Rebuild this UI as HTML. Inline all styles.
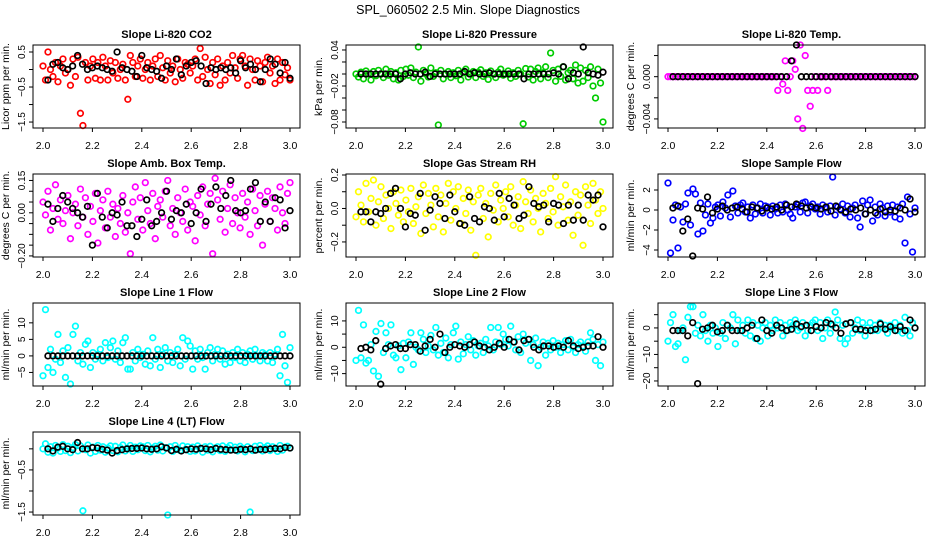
<!DOCTYPE html>
<html><head><meta charset="utf-8"><style>
html,body{margin:0;padding:0;background:#fff;}
svg{display:block;font-family:"Liberation Sans",Arial,sans-serif;}
</style></head><body>
<svg id="chart" width="936" height="540" viewBox="0 0 936 540" xmlns="http://www.w3.org/2000/svg">
<text x="468" y="14" text-anchor="middle" font-size="12.5">SPL_060502  2.5 Min. Slope Diagnostics</text>
</svg>
<script>
// ---- data (y values; x evenly spaced over 2.0..3.0) ----
const co2Color=[0.1,-0.3,0.5,0.0,-0.2,0.2,-0.35,0.1,0.3,-0.1,0.0,-0.45,0.3,-0.2,0.35,-1.25,-1.6,0.2,-0.3,0.1,0.3,-0.25,0.2,-0.3,0.35,0.1,-0.3,0.25,-0.1,0.2,-0.25,0.0,0.15,-0.3,-0.85,0.4,0.2,-0.2,0.1,0.3,-0.25,0.0,0.2,-0.3,0.1,0.3,-0.2,0.4,0.05,-0.3,0.25,-0.1,0.1,-0.35,0.3,0.0,-0.25,0.2,0.15,-0.1,0.1,0.3,-0.3,0.6,-0.2,0.35,0.0,-0.4,0.2,-0.15,0.3,-0.45,0.1,-0.3,0.2,-0.1,0.4,0.05,-0.25,0.3,0.4,0.1,-0.45,0.3,0.0,-0.3,0.25,0.1,-0.35,0.2,0.35,-0.1,0.1,-0.4,0.3,-0.3,0.2,-0.15,0.05,-0.3];
const co2Black=[-0.3,0.15,0.2,0.05,0.0,0.1,0.4,0.15,0.0,0.05,0.1,0.05,0.0,-0.05,0.5,0.05,0.0,-0.05,-0.2,0.4,0.05,0.0,-0.05,-0.25,0.1,0.0,0.3,-0.15,0.1,0.2,0.25,0.1,-0.4,0.05,0.0,0.05,0.0,0.05,-0.1,0.25,0.05,0.15,0.0,-0.35,0.0,0.3,0.15,-0.1,0.2,-0.25];
const presColor=[0.0,-0.005,0.003,-0.008,0.005,0.0,-0.01,0.004,-0.003,0.006,0.0,-0.006,0.008,-0.002,0.004,-0.008,0.002,-0.01,0.006,-0.004,0.008,-0.002,0.01,-0.006,0.003,0.045,-0.012,0.006,0.0,-0.005,0.01,-0.004,0.002,-0.085,0.006,-0.008,0.0,0.004,-0.006,0.002,-0.003,0.006,-0.01,0.002,0.008,-0.005,0.0,0.004,-0.006,0.003,0.007,-0.004,0.002,-0.009,0.005,0.0,-0.006,0.003,0.008,-0.002,0.0,0.005,-0.007,0.002,-0.004,0.006,0.0,-0.083,0.009,-0.005,0.008,-0.01,0.004,0.01,-0.008,0.002,0.012,-0.006,0.035,0.006,-0.012,0.008,-0.004,0.012,-0.01,0.002,0.006,-0.008,0.015,-0.015,0.01,-0.012,0.006,-0.006,0.012,-0.02,-0.04,0.008,-0.015,-0.08];
const presBlack=[0,0,0,0,0,0,0,0,-0.008,0,0.002,0,0,0.003,-0.004,0,0,0,0,0,0,0.004,0,0.002,0,0,0.002,0,0,0,0,0,0,-0.008,0,0,0,0,0,0.002,0,0.012,-0.008,0.002,0,0.045,0.002,0,-0.002,0.003];
const tempColor=[0,0,0,0,0,0,0,0,0,0,0,0,0,0,0,0,0,0,0,0,0,0,0,0,0,0,0,0,0,0,0,0,0,0,0,0,0,0,0,0,0,0,0,0,-0.0013,0,-0.0007,0.0015,-0.0013,0,0.0015,0.0007,-0.004,0.003,-0.0049,0.002,-0.0013,-0.0028,-0.0013,0,-0.0013,0,0,0,-0.0013,0,0,0,0,0,0,0,0,0,0,0,0,0,0,0,0,0,0,0,0,0,0,0,0,0,0,0,0,0,0,0,0,0,0,0];
const tempBlack=[0,0,0,0,0,0,0,0,0,0,0,0,0,0,0,0,0,0,0,0,0,0,0,0,0.0015,0.003,0,0,0,0,0,0,0,0,0,0,0,0,0,0,0,0,0,0,0,0,0,0,0,0];
const ambColor=[0.05,-0.01,0.1,-0.08,0.02,0.13,-0.03,0.06,-0.05,0.01,0.08,-0.12,0.0,0.04,-0.06,0.11,-0.02,0.07,-0.1,0.03,-0.04,0.09,-0.14,0.01,0.06,-0.07,0.1,-0.02,0.04,-0.11,0.02,-0.05,0.08,-0.09,0.0,-0.19,0.05,0.12,-0.03,0.07,-0.08,0.14,0.01,-0.05,0.09,-0.12,0.03,0.06,-0.02,0.1,0.15,-0.06,0.02,-0.1,0.07,0.0,-0.04,0.11,-0.08,0.05,0.03,-0.13,0.08,-0.01,0.12,-0.06,0.04,0.09,-0.19,0.16,0.06,-0.03,0.1,-0.09,0.02,0.13,-0.05,0.07,0.0,-0.07,0.09,-0.02,0.05,-0.1,0.11,0.01,-0.06,0.08,-0.15,0.04,0.1,-0.04,0.07,0.02,-0.08,0.12,0.0,-0.05,0.09,0.14];
const ambBlack=[0.04,-0.04,0.02,0.08,0.05,0.02,0.0,-0.02,0.03,-0.15,0.09,-0.02,-0.07,0.0,-0.01,0.05,-0.06,-0.06,-0.11,-0.03,0.06,-0.06,-0.04,0.0,0.1,-0.03,0.01,0.0,0.04,-0.05,0.0,0.11,-0.04,0.04,0.12,0.02,0.08,0.15,0.01,0.0,0.01,0.11,0.14,-0.04,0.05,-0.04,0.07,0.06,-0.07,0.01];
const rhColor=[-0.05,0.1,0.02,-0.08,0.15,-0.02,0.06,0.17,-0.1,0.04,0.13,-0.06,0.08,0.0,-0.12,0.1,0.03,-0.04,0.11,-0.08,0.05,-0.02,0.12,-0.09,0.01,0.07,-0.15,0.14,-0.03,0.09,0.02,-0.11,0.12,-0.05,0.08,-0.14,0.03,0.15,-0.07,0.1,0.0,0.13,-0.09,0.06,-0.03,0.11,-0.13,0.04,-0.28,0.08,0.12,-0.06,0.03,-0.17,0.09,-0.01,0.14,-0.08,0.05,0.0,0.1,-0.05,0.13,-0.1,0.02,0.07,-0.12,0.16,0.04,-0.03,0.11,-0.08,0.06,0.0,-0.14,0.09,0.03,-0.06,0.12,-0.02,0.19,-0.1,0.07,0.01,0.14,-0.07,0.04,-0.16,0.1,-0.04,0.08,-0.22,0.13,0.02,-0.09,0.15,0.05,-0.03,0.1,0.0];
const rhBlack=[-0.02,-0.02,-0.08,-0.02,-0.03,0.0,0.09,0.12,0.0,-0.11,-0.03,-0.04,0.09,-0.13,-0.01,0.07,0.03,-0.06,0.08,-0.02,-0.09,-0.1,0.07,-0.06,-0.08,0.01,0.0,-0.07,0.09,-0.05,0.06,0.02,-0.06,-0.04,0.13,0.03,0.01,0.02,-0.08,0.03,0.02,-0.09,0.02,-0.07,0.02,-0.07,0.08,0.05,0.08,-0.11];
const sampColor=[2.7,-4.3,-1.0,0.5,-3.8,0.3,-1.2,0.6,1.7,-1.5,2.1,1.6,-2.4,0.7,-2.1,-0.5,0.6,-1.3,-0.8,0.3,0.5,-0.6,0.8,0.2,1.5,-0.7,1.9,0.4,-0.3,0.5,0.7,-0.2,0.3,-0.8,0.5,-0.4,0.2,0.6,-0.3,0.4,0.3,-0.5,0.4,0.1,-0.3,0.5,-0.2,0.6,0.0,-0.4,-0.8,0.3,0.5,-0.2,0.7,0.8,-0.3,0.4,0.6,0.1,0.3,-0.4,0.5,0.2,-0.2,0.4,3.3,-0.5,0.3,0.1,0.6,-0.3,0.4,-0.7,0.2,0.5,-0.8,-1.7,0.9,-0.4,0.5,1.0,-1.1,0.3,-0.5,0.6,0.2,-0.6,0.4,-0.2,0.5,-0.7,0.3,-0.9,0.6,-3.3,1.3,-0.4,-4.2,0.2];
const sampBlack=[0.2,0.4,-2.1,-0.9,-4.6,0.2,0.1,1.3,-0.3,0.1,0.4,0.0,0.2,0.3,0.1,-0.2,0.3,0.2,-0.1,0.2,0.1,0.3,0.0,0.5,0.3,0.6,0.4,0.2,0.3,0.2,0.1,0.3,-0.1,0.4,0.0,-0.2,0.1,0.0,0.2,-0.4,0.0,-0.3,0.1,-0.2,0.0,-0.1,0.2,0.0,1.1,-0.2];
const line1Color=[-6,14,-3.5,2,-5,-1,6.5,-2,1.5,-6.5,2.5,-8.5,6.5,9,-1.5,1,-2.5,3.5,4.5,-3.5,1,-1,0.5,2,-1.5,4,-0.5,2.5,4.5,-1,1.5,-2,4,5.5,-4,-4,1,-1.5,2,-0.5,0.5,-2.5,1.5,-3,5.5,-1,2,-3.5,0.5,2.5,-1.5,1,-2,0.5,2,-3,5.5,-1,4.5,3,-4,1.5,-1,2,-0.5,-4,1,2.5,-1.5,0.5,2,-1,1.5,-2.5,0.5,-2,1,-0.5,2,-1.5,1,-2,0.5,1.5,-1,2,0,-1.5,1,0.5,-1.5,1,-2,0.5,2,-6,6.5,-3,-8,2.5];
const line1Black=[0,0,0,0,0,0,0,0,0,0,0,0,0,0,0,0,0,0,0,0,0,0,0,0,0,0,0,0,0,0,0,0,0,0,0,0,0,0,0,0,0,0,0,0,0,0,0,0,0,0];
const line2Color=[-5,14,-4,8.5,-6,-5,1,-9,6,-11,9,-2,5.5,1,8.5,-3,-4,0.5,-8.5,1.5,-4,2,5.5,-6.5,0,-1,5.5,3,-2,0.5,4.5,-1,7.5,-3,1.5,-2,3.5,-4,1,5.5,8,-4.5,2,-2.5,1,4,-1,2.5,-3,0.5,1.5,-2,3,0.5,7.5,-1,2,7.5,1,5,3,0.5,8,2,-1,4,-2,5,1.5,3,-5,1,3.5,-7,0,2,-3,1.5,-1,2.5,0,1.5,-2,1,2.5,-1,3,0,-2,1,2,0.5,-1.5,2,5.5,3,-5,1,-7,2];
const line2Black=[-0.5,0,-1,2.5,-14,-0.5,0.5,1,-0.5,-0.5,1,1,-1.5,0.5,3,0,5,-2,0,1,0.5,0,1,2,0.5,0,-1,0,1.5,0,3,2,-1,2.5,3,0,-1,0.5,0.5,0,0.5,0,2.5,0.5,-0.5,0,0.5,0.5,4,0];
const line3Color=[-5,2,5,-7,-6,-1,0,-12,4,8,8,-2,1,-3,5,-1,-5,1,-2,0,-7,-2,2,-4,1,0,5,-6,3,-1,1,-2,3,-3,2,-4,1,-5,0,2,-3,1,-1,3,0,2,-3,1,-1,2,1,3,-1,0,2,-3,-1,1,2,3,-1,2,-4,0,3,-2,1,6,3,-4,1,-6,-4,2,-2,0,3,-1,2,-3,0,2,-1,1,-1,2,0,1,-2,1,0,2,-1,1,-2,4,-1,-3,2,0];
const line3Black=[-1,-1,-1,-3,2,-21,-0.5,0,1,-1.5,-1,1,-1,-1,-1,0,1,-4,3,-1,-2,1,0,-1,-0.5,1.5,0.5,1,-1,0.5,0,2,1.5,0,-2,1.5,2,-0.5,-0.5,-1,-1,-0.5,1.5,-0.5,0.5,-1,0.5,-1,3,0];
const line4Color=[0.0,0.12,-0.08,0.05,-0.1,0.08,0.02,-0.06,0.1,-0.04,0.06,-0.09,0.03,0.1,-0.05,0.07,-1.47,-0.02,0.09,-0.1,0.04,-0.06,0.08,-0.03,0.05,-0.08,0.02,0.07,-0.04,0.06,-0.07,0.03,0.09,-0.05,0.01,0.08,-0.06,0.04,-0.02,0.07,0.05,-0.04,0.08,-0.07,0.02,0.06,-0.03,0.09,-0.05,0.03,-1.57,0.05,-0.06,0.08,0.0,-0.04,0.07,-0.02,0.05,-0.06,0.04,-0.05,0.07,0.01,-0.08,0.05,-0.03,0.06,-0.07,0.02,0.05,-0.04,0.07,-0.06,0.03,0.08,-0.02,0.04,-0.05,0.06,0.01,-0.07,0.05,-1.5,-0.04,0.06,-0.02,0.08,-0.05,0.03,0.07,-0.04,0.05,0.0,-0.06,0.08,-0.03,0.04,0.06,0.02];
const line4Black=[0.0,-0.05,0.04,0.06,0.0,-0.02,0.15,0.0,0.0,0.03,0.02,-0.01,-0.03,-0.1,-0.04,-0.02,0.0,0.01,0.01,0.02,0.0,-0.01,0.0,0.05,0.02,-0.04,-0.01,-0.05,-0.02,0.0,-0.01,0.01,0.0,-0.02,0.01,-0.01,-0.02,-0.03,-0.03,-0.01,-0.02,0.0,-0.03,-0.01,-0.02,0.0,0.01,0.0,0.03,0.02];
const xTicks=[2.0,2.2,2.4,2.6,2.8,3.0];
const xTickLabels=["2.0","2.2","2.4","2.6","2.8","3.0"];

const panels=[
 {name:"co2",title:"Slope Li-820 CO2",yl:"Licor ppm per min.",col:0,row:0,dom:[-1.67,0.7],ticks:[0.5,0,-0.5,-1,-1.5],labels:{"0.5":"0.5","-0.5":"-0.5","-1.5":"-1.5"},color:"#ff0000",c:co2Color,k:co2Black},
 {name:"pressure",title:"Slope Li-820 Pressure",yl:"kPa per min.",col:1,row:0,dom:[-0.09,0.0483],ticks:[0.04,0.02,0,-0.02,-0.04,-0.06,-0.08],labels:{"0.04":"0.04","-0.02":"-0.02","-0.08":"-0.08"},color:"#00cc00",c:presColor,k:presBlack},
 {name:"temp",title:"Slope Li-820 Temp.",yl:"degrees C per min.",col:2,row:0,dom:[-0.00486,0.003],ticks:[0.002,0,-0.002,-0.004],labels:{"0":"0.000","-0.004":"-0.004"},color:"#ff00ff",c:tempColor,k:tempBlack},
 {name:"amb-box-temp",title:"Slope Amb. Box Temp.",yl:"degrees C per min.",col:0,row:1,dom:[-0.205,0.18],ticks:[0.15,0.1,0.05,0,-0.05,-0.1,-0.15,-0.2],labels:{"0.15":"0.15","0":"0.00","-0.2":"-0.20"},color:"#ff00ff",c:ambColor,k:ambBlack},
 {name:"gas-rh",title:"Slope Gas Stream RH",yl:"percent per min.",col:1,row:1,dom:[-0.29,0.206],ticks:[0.2,0.1,0,-0.1,-0.2],labels:{"0.2":"0.2","0":"0.0","-0.2":"-0.2"},color:"#ffff00",c:rhColor,k:rhBlack},
 {name:"sample-flow",title:"Slope Sample Flow",yl:"ml/min per min.",col:2,row:1,dom:[-4.7,3.6],ticks:[2,0,-2,-4],labels:{"2":"2","0":"0","-2":"-2","-4":"-4"},color:"#0000ff",c:sampColor,k:sampBlack},
 {name:"line1-flow",title:"Slope Line 1 Flow",yl:"ml/min per min.",col:0,row:2,dom:[-9.1,16],ticks:[10,5,0,-5],labels:{"10":"10","5":"5","0":"0","-5":"-5"},color:"#00ffff",c:line1Color,k:line1Black},
 {name:"line2-flow",title:"Slope Line 2 Flow",yl:"ml/min per min.",col:1,row:2,dom:[-14.7,16.8],ticks:[10,5,0,-5,-10],labels:{"10":"10","0":"0","-10":"-10"},color:"#00ffff",c:line2Color,k:line2Black},
 {name:"line3-flow",title:"Slope Line 3 Flow",yl:"ml/min per min.",col:2,row:2,dom:[-21.9,9.4],ticks:[5,0,-5,-10,-15,-20],labels:{"0":"0","-10":"-10","-20":"-20"},color:"#00ffff",c:line3Color,k:line3Black},
 {name:"line4-flow",title:"Slope Line 4 (LT) Flow",yl:"ml/min per min.",col:0,row:3,dom:[-1.57,0.4],ticks:[0,-0.5,-1,-1.5],labels:{"-0.5":"-0.5","-1.5":"-1.5"},color:"#00ffff",c:line4Color,k:line4Black}
];
const colX=[33,346,658], rowY=[45,174,303,432], BW=267, BH=83, XPAD=10;
const NS="http://www.w3.org/2000/svg";
const svg=document.getElementById('chart');
function mk(tag,attrs,parent){const e=document.createElementNS(NS,tag);for(const a in attrs)e.setAttribute(a,attrs[a]);(parent||svg).appendChild(e);return e;}
panels.forEach(p=>{
  const L=colX[p.col], T=rowY[p.row], R=L+BW, B=T+BH;
  const g=mk('g',{});
  
  
  const xs=v=>L+XPAD+(v-2)*(BW-2*XPAD);
  const ys=v=>B-(v-p.dom[0])/(p.dom[1]-p.dom[0])*BH;
  const t=mk('text',{x:(L+R)/2,y:T-7,'text-anchor':'middle','font-size':11,'font-weight':'bold'},g);
  t.textContent=p.title;
  
  
  const pts=mk('g',{fill:'none','stroke-width':1.7},g);
  
  
  const n=p.c.length;
  p.c.forEach((v,i)=>{const c=mk('circle',{cx:xs(2+i/(n-1)),cy:ys(v),r:2.8,stroke:p.color},pts);
    
    });
  const m=p.k.length;
  p.k.forEach((v,i)=>{const c=mk('circle',{cx:xs(2+0.02+i*(0.98/(m-1))),cy:ys(v),r:2.8,stroke:'#000'},pts);
    
    });
  const box=mk('rect',{x:L,y:T,width:BW,height:BH,fill:'none',stroke:'#000','stroke-width':1},g);
  
  
  const xa=mk('g',{},g);
  
  
  xTicks.forEach((v,i)=>{mk('line',{x1:xs(v),x2:xs(v),y1:B,y2:B+4,stroke:'#000'},xa);
    const tl=mk('text',{x:xs(v),y:B+21,'text-anchor':'middle','font-size':10.5},xa);tl.textContent=xTickLabels[i];
    
    });
  const ya=mk('g',{},g);
  
  
  p.ticks.forEach(v=>{const y=ys(v);mk('line',{x1:L-4,x2:L,y1:y,y2:y,stroke:'#000'},ya);
    const lab=p.labels[String(v)];
    if(lab){const tl=mk('text',{x:0,y:0,'text-anchor':'middle','font-size':10,transform:`translate(${L-8},${y}) rotate(-90)`},ya);tl.textContent=lab.replace('-','\u2212');
      
      }});
  const yt=mk('text',{x:0,y:0,'text-anchor':'middle','font-size':10.5,transform:`translate(${L-24},${(T+B)/2}) rotate(-90)`},g);
  yt.textContent=p.yl;
  
  
});
</script>
</body></html>
